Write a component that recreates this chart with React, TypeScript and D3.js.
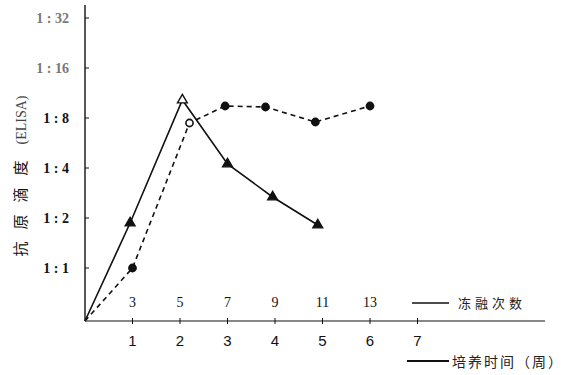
import React from "react";
import * as d3 from "d3";

// Y axis: antigen titer as log2 exponent (1:1 -> 0). The origin has no titer.
const titerExponents = [0, 1, 2, 3, 4, 5];
const titerLabels = ["1 : 1", "1 : 2", "1 : 4", "1 : 8", "1 : 16", "1 : 32"];
const ORIGIN_LEVEL = -1.06;

// Bottom axis: culture time (weeks)
const weekTicks = [1, 2, 3, 4, 5, 6, 7];
// Top axis labels: freeze-thaw count
const freezeTicks = [3, 5, 7, 9, 11, 13];

// Series 1 (solid, triangles): culture time
const cultureWeeks = [0, 0.95, 2.05, 3.0, 3.95, 4.9];
const cultureTiter = [ORIGIN_LEVEL, 0.9, 3.36, 2.08, 1.42, 0.86];

// Series 2 (dashed, circles): freeze-thaw count
const freezeCounts = [1, 3, 5.4, 6.9, 8.6, 10.7, 13];
const freezeTiter = [ORIGIN_LEVEL, 0, 2.9, 3.24, 3.22, 2.92, 3.24];

const W = 574;
const H = 375;

export default function App() {
  const x = d3.scaleLinear().domain([0, 7]).range([85, 417.5]);
  const xTop = d3.scaleLinear().domain([1, 15]).range([85, 417.5]);
  const y = d3.scaleLinear().domain([ORIGIN_LEVEL, 5]).range([321, 18]);

  const solidPts: [number, number][] = cultureWeeks.map((w, i) => [x(w), y(cultureTiter[i])]);
  const dashPts: [number, number][] = freezeCounts.map((c, i) => [xTop(c), y(freezeTiter[i])]);
  const line = d3.line();
  const tri = d3.symbol().type(d3.symbolTriangle).size(42);

  const x0 = x(0);
  const y0 = y(ORIGIN_LEVEL);
  const serif = "'Liberation Serif', 'DejaVu Serif', serif";
  const cjk = "'Noto Sans CJK SC', sans-serif";

  return (
    <svg
      width={W}
      height={H}
      style={{ position: "absolute", left: 0, top: 0, background: "#fff" }}
    >
      <rect width={W} height={H} fill="#fff" />
      {/* axes */}
      <line x1={x0} y1={y0} x2={x0} y2={5} stroke="#111" strokeWidth={1.4} />
      <line x1={x0} y1={y0} x2={545} y2={y0} stroke="#111" strokeWidth={1.2} />

      {/* y ticks */}
      {titerExponents.map((e, i) => (
        <g key={"yt" + e}>
          <line x1={x0} x2={x0 + 4} y1={y(e)} y2={y(e)} stroke="#111" strokeWidth={1} />
          <text
            x={69}
            y={y(e) + 5}
            textAnchor="end"
            fontFamily={serif}
            fontSize={14}
            fill={i >= 4 ? "#777" : "#111"}
            fontWeight="bold"
          >
            {titerLabels[i]}
          </text>
        </g>
      ))}

      {/* y title */}
      <text
        transform={`translate(26,${176}) rotate(-90)`}
        textAnchor="middle"
        fontFamily={cjk}
        fontSize={15}
        fill="#111"
      >
        <tspan letterSpacing={12}>抗原滴度</tspan>
        <tspan dx={4} fontFamily={serif} fontSize={14} fill="#444">(ELISA)</tspan>
      </text>

      {/* bottom ticks (weeks) */}
      {weekTicks.map((w) => (
        <g key={"w" + w}>
          <line x1={x(w)} x2={x(w)} y1={y0 - 3} y2={y0 + 3} stroke="#111" strokeWidth={1} />
          <text
            x={x(w)}
            y={346}
            textAnchor="middle"
            fontFamily={"'Liberation Sans', Arial, sans-serif"}
            fontSize={15}
            fill="#111"
          >
            {w}
          </text>
        </g>
      ))}

      {/* top labels (freeze-thaw) */}
      {freezeTicks.map((c) => (
        <text
          key={"f" + c}
          x={xTop(c)}
          y={307}
          textAnchor="middle"
          fontFamily={serif}
          fontSize={14}
          fill="#111"
        >
          {c}
        </text>
      ))}

      {/* series lines */}
      <path d={line(solidPts) || ""} fill="none" stroke="#111" strokeWidth={1.6} />
      <path
        d={line(dashPts) || ""}
        fill="none"
        stroke="#111"
        strokeWidth={1.6}
        strokeDasharray="5,4"
      />

      {/* triangle markers */}
      {solidPts.slice(1).map(([px, py], i) => (
        <path
          key={"tr" + i}
          d={tri() || ""}
          transform={`translate(${px},${py})`}
          fill={i === 1 ? "#fff" : "#111"}
          stroke="#111"
          strokeWidth={1.4}
        />
      ))}

      {/* circle markers */}
      {dashPts.slice(1).map(([px, py], i) => (
        <circle
          key={"c" + i}
          cx={px}
          cy={py}
          r={3.6}
          fill={i === 1 ? "#fff" : "#111"}
          stroke="#111"
          strokeWidth={1.6}
        />
      ))}

      {/* legends */}
      <line x1={412} x2={449} y1={303} y2={303} stroke="#111" strokeWidth={1.3} />
      <text x={458} y={308} fontFamily={cjk} fontSize={13} letterSpacing={4} fill="#222">
        冻融次数
      </text>
      <line x1={407} x2={449} y1={361} y2={361} stroke="#111" strokeWidth={2} />
      <text x={452} y={367} fontFamily={cjk} fontSize={14} letterSpacing={2} fill="#222">
        培养时间（周）
      </text>
    </svg>
  );
}
